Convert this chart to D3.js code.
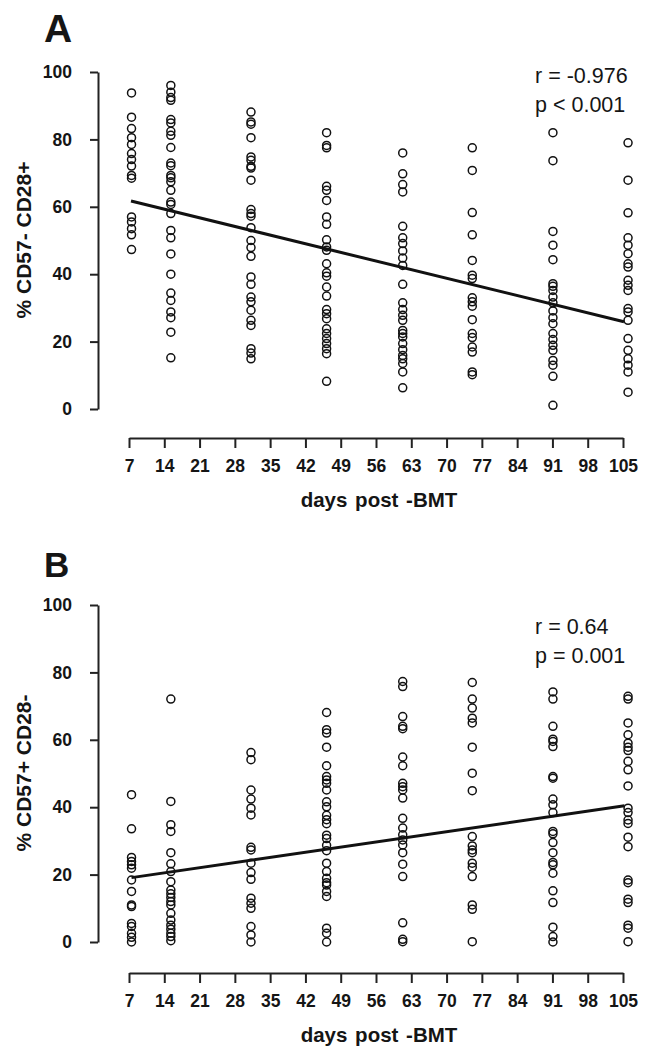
<!DOCTYPE html>
<html>
<head>
<meta charset="utf-8">
<script src="https://cdn.jsdelivr.net/npm/d3@7"></script>
<style>
  body { margin: 0; background: #fff; }
  svg text { font-family: "Liberation Sans", Arial, sans-serif; fill: #151515; }
</style>
</head>
<body>
<div id="chart"></div>
<script>
// days at which samples were taken (as plotted)
var sampleDays = [7.5, 15.3, 31.2, 46.2, 61.3, 75.1, 91.1, 106];
var xTicks = [7, 14, 21, 28, 35, 42, 49, 56, 63, 70, 77, 84, 91, 98, 105];
var yTicks = [0, 20, 40, 60, 80, 100];

// panel A: % CD57- CD28+ , one list per sample day
var cd28pos = [
  [93.8, 86.6, 83.2, 80.5, 78.5, 75.8, 74.0, 72.1, 69.3, 68.5, 57.0, 55.5, 53.5, 51.7, 47.3],
  [96, 94, 92.4, 91.6, 85.9, 84.9, 82.4, 81.2, 77.6, 73, 72.2, 69.3, 68.6, 67.4, 64.9, 61.4, 60.7, 58, 53, 50.8, 46, 40, 34.4, 32.2, 28.8, 27.1, 22.8, 15.2],
  [88.1, 85.2, 84.5, 80.5, 74.8, 73.8, 72, 71.5, 67.9, 59.2, 58, 57.2, 53.8, 50, 47.9, 45.3, 39.2, 37, 33.2, 31.8, 29.3, 26.3, 24.8, 17.9, 16.6, 14.9],
  [82, 78.2, 77.5, 66.1, 64.9, 61.9, 57, 54.8, 50.2, 48.1, 47.1, 43.1, 40.4, 39.4, 36.2, 33.5, 29.5, 28.3, 26.8, 23.8, 22.4, 20.9, 19.4, 17.9, 16.4, 8.2],
  [76, 69.8, 66.6, 64.4, 54.2, 50.8, 49.1, 46.9, 44.8, 42.6, 37, 31.5, 29.5, 27.8, 26.3, 23.3, 22.4, 21.4, 19.4, 17.6, 15.9, 14.9, 13.5, 11, 6.3],
  [77.5, 70.8, 58.3, 51.7, 44.1, 39.7, 38.7, 33, 31.8, 30.5, 26.5, 22.4, 21.2, 18.4, 16.9, 11, 10.2],
  [82, 73.7, 52.7, 48.6, 44.3, 37.2, 36.4, 35.2, 33.2, 31.5, 29.1, 27.1, 25.3, 22.4, 20.6, 18.9, 17.4, 14.4, 13, 9.7, 1.1],
  [79, 67.9, 58.2, 50.8, 48.6, 46.1, 43.1, 42.1, 38.2, 36.7, 35.2, 29.8, 28.8, 26.3, 20.9, 17.4, 14.9, 13, 11, 5]
];

// panel B: % CD57+ CD28-
var cd28neg = [
  [43.7, 33.6, 25.1, 23.9, 22.9, 21.9, 18.4, 15, 11, 10.5, 5.5, 4.6, 2.6, 1.4, 0],
  [72.1, 41.7, 34.8, 32.8, 26.5, 23.2, 20.9, 17.9, 15.4, 14.3, 13.2, 12, 11, 8.5, 6.5, 5, 3.8, 2.6, 1.6, 0.4],
  [56.2, 54.1, 45.1, 42.4, 39.7, 37.7, 28.1, 27.3, 23.4, 20.6, 18.6, 13, 11.5, 10, 4.6, 2.1, 0],
  [68.1, 63, 62, 57.8, 52.3, 49.1, 48.1, 47.1, 45.1, 41.6, 40.1, 37.6, 36.3, 35.1, 31.7, 30.7, 28.7, 27.1, 23.4, 20.9, 18.9, 17.6, 16.9, 15, 13.5, 4.1, 2.6, 0],
  [77.3, 75.8, 66.9, 64, 63.3, 54.9, 52.3, 47.1, 46.1, 45.1, 42.7, 36.7, 33.8, 31.8, 30.3, 28.8, 26.5, 23.1, 19.4, 5.7, 0.8, 0.1],
  [77, 72.1, 69.4, 66.4, 65, 57.8, 50.1, 44.9, 31.3, 28.5, 27.3, 26.5, 23.4, 22.2, 19.4, 11, 9.7, 0.1],
  [74.2, 72.1, 64, 60.2, 59.5, 58, 49.1, 48.6, 42.4, 40.7, 38.4, 32.8, 32.1, 29.5, 26.5, 23.6, 22.9, 20.4, 15.2, 11.7, 4.4, 1.6, 0],
  [72.9, 72.1, 65, 61.5, 59, 57.8, 56.8, 53.6, 51.1, 46.3, 39.7, 38.4, 36.2, 35.2, 31.1, 28.3, 18.4, 17.6, 12.7, 11.7, 5, 4.1, 0.1]
];

// fitted regression lines (start / end)
var fitA = [{day: 7.4, value: 61.7}, {day: 105.2, value: 25.9}];
var fitB = [{day: 7.5, value: 19.1}, {day: 105.3, value: 40.4}];

var statsA = ["r = -0.976", "p < 0.001"];
var statsB = ["r = 0.64", "p = 0.001"];

var svg = d3.select("#chart").append("svg")
  .attr("width", 646)
  .attr("height", 1046);

function drawPanel(cfg) {
  var g = svg.append("g");

  var x = d3.scaleLinear().domain([7, 105]).range([129, 623]);
  var y = d3.scaleLinear().domain([0, 100]).range([337, 0]);

  // panel letter
  g.append("text")
    .attr("x", 44).attr("y", cfg.letterY)
    .style("font-size", cfg.letterSize + "px")
    .style("font-weight", "bold")
    .text(cfg.letter);

  // y axis
  var yAxis = g.append("g")
    .attr("transform", "translate(98," + cfg.plotTop + ")")
    .call(d3.axisLeft(y).tickValues(yTicks).tickSize(8).tickSizeOuter(0).tickPadding(18));
  yAxis.selectAll("path, line").attr("stroke", "#222").attr("stroke-width", 2);
  yAxis.selectAll("text")
    .style("font-size", "17.5px").style("font-weight", "bold")
    .style("font-family", "'Liberation Sans', Arial, sans-serif").attr("fill", "#151515");

  // x axis
  var xAxis = g.append("g")
    .attr("transform", "translate(0," + cfg.xAxisY + ")")
    .call(d3.axisBottom(x).tickValues(xTicks).tickSize(10).tickSizeOuter(0).tickPadding(12));
  xAxis.selectAll("path, line").attr("stroke", "#222").attr("stroke-width", 2);
  xAxis.selectAll("text")
    .style("font-size", "17.5px").style("font-weight", "bold")
    .style("font-family", "'Liberation Sans', Arial, sans-serif").attr("fill", "#151515");

  // axis titles
  g.append("text")
    .attr("transform", "translate(31," + (cfg.plotTop + 168) + ") rotate(-90)")
    .attr("text-anchor", "middle")
    .style("font-size", "21px").style("font-weight", "bold")
    .text(cfg.yTitle);

  g.append("text")
    .attr("x", 379).attr("y", cfg.xTitleY)
    .attr("text-anchor", "middle")
    .style("font-size", "20.5px").style("font-weight", "bold")
    .style("word-spacing", "2px")
    .text("days post -BMT");

  // points
  var pts = [];
  cfg.values.forEach(function(col, i) {
    col.forEach(function(v) { pts.push({day: sampleDays[i], value: v}); });
  });

  var plot = g.append("g").attr("transform", "translate(0," + cfg.plotTop + ")");

  plot.selectAll("circle")
    .data(pts)
    .enter()
    .append("circle")
    .attr("cx", function(d) { return x(d.day); })
    .attr("cy", function(d) { return y(d.value); })
    .attr("r", 4)
    .style("fill", "none")
    .style("stroke", "#111")
    .style("stroke-width", 1.5);

  // regression line
  var line = d3.line()
    .x(function(d) { return x(d.day); })
    .y(function(d) { return y(d.value); });

  plot.append("path")
    .datum(cfg.fit)
    .attr("d", line)
    .style("fill", "none")
    .style("stroke", "#111")
    .style("stroke-width", 3);

  // stats
  g.selectAll("text.stat")
    .data(cfg.stats)
    .enter()
    .append("text")
    .attr("class", "stat")
    .attr("x", 535)
    .attr("y", function(d, i) { return cfg.statY + i * 29; })
    .style("font-size", "21.5px")
    .text(function(d) { return d; });
}

drawPanel({
  letter: "A", letterY: 42, letterSize: 39, plotTop: 72, xAxisY: 438,
  xTitleY: 507, yTitle: "% CD57- CD28+", values: cd28pos, fit: fitA,
  stats: statsA, statY: 83
});

drawPanel({
  letter: "B", letterY: 577, letterSize: 35, plotTop: 605, xAxisY: 973,
  xTitleY: 1042, yTitle: "% CD57+ CD28-", values: cd28neg, fit: fitB,
  stats: statsB, statY: 634
});
</script>
</body>
</html>
